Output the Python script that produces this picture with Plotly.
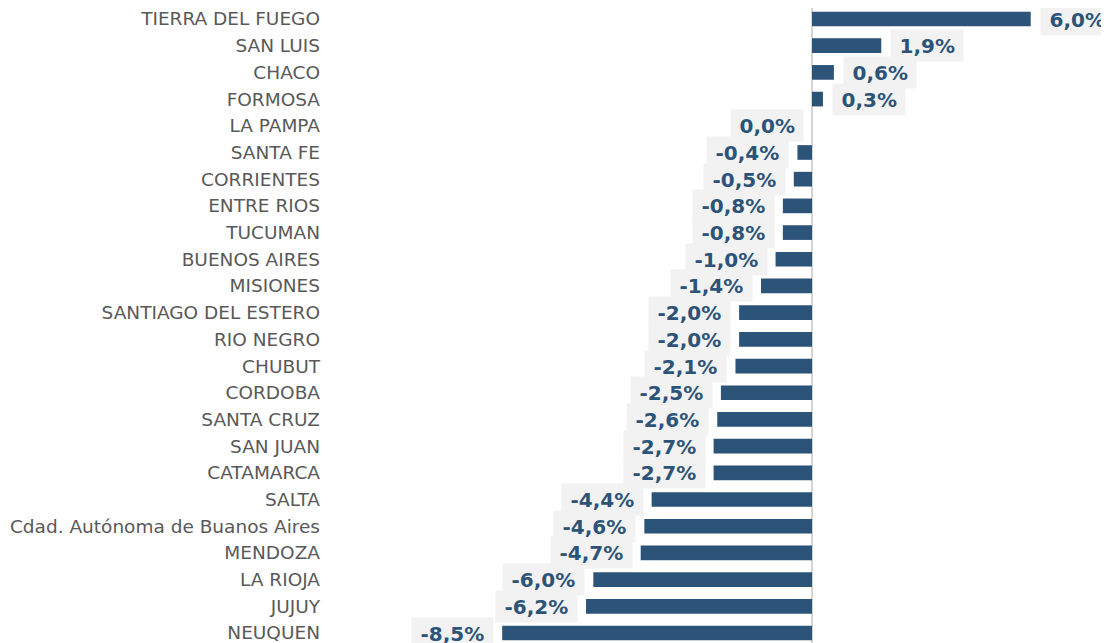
import plotly.graph_objects as go

provinces = [
    "TIERRA DEL FUEGO", "SAN LUIS", "CHACO", "FORMOSA", "LA PAMPA", "SANTA FE",
    "CORRIENTES", "ENTRE RIOS", "TUCUMAN", "BUENOS AIRES", "MISIONES",
    "SANTIAGO DEL ESTERO", "RIO NEGRO", "CHUBUT", "CORDOBA", "SANTA CRUZ",
    "SAN JUAN", "CATAMARCA", "SALTA", "Cdad. Autónoma de Buanos Aires",
    "MENDOZA", "LA RIOJA", "JUJUY", "NEUQUEN",
]
values = [
    6.0, 1.9, 0.6, 0.3, 0.0, -0.4,
    -0.5, -0.8, -0.8, -1.0, -1.4,
    -2.0, -2.0, -2.1, -2.5, -2.6,
    -2.7, -2.7, -4.4, -4.6,
    -4.7, -6.0, -6.2, -8.5,
]

BAR = "#2C5378"
LABEL_BG = "#F2F2F2"
PADSP = "\u2005"

# bottom-to-top order for the category axis
cats = provinces[::-1]
vals = values[::-1]

fig = go.Figure(
    go.Bar(
        x=vals,
        y=cats,
        orientation="h",
        marker=dict(color=BAR, line=dict(width=0)),
        width=0.55,
        hoverinfo="skip",
    )
)

for c, v in zip(cats, vals):
    txt = f"{v:.1f}".replace(".", ",") + "%"
    pos = v > 0
    fig.add_annotation(
        x=v, y=c, xref="x", yref="y",
        text=f"<b>{PADSP}{txt}{PADSP}</b>",
        showarrow=False,
        xanchor="left" if pos else "right",
        yanchor="middle",
        xshift=9 if pos else -8,
        bgcolor=LABEL_BG,
        borderpad=3.5,
        font=dict(family="DejaVu Sans", size=20, color=BAR),
    )

fig.update_layout(
    width=1109, height=643,
    margin=dict(l=315, r=0, t=0, b=0),
    paper_bgcolor="white",
    plot_bgcolor="white",
    showlegend=False,
    xaxis=dict(
        range=[-13.416, 8.367],
        showticklabels=False, showgrid=False, ticks="",
        zeroline=True, zerolinecolor="#D4D4D4", zerolinewidth=2,
        fixedrange=True,
    ),
    yaxis=dict(
        type="category",
        categoryorder="array", categoryarray=cats,
        range=[-0.6743, 23.412],
        showgrid=False, ticks="", zeroline=False,
        tickfont=dict(family="DejaVu Sans", size=18.5, color="#595959"),
        ticklabelstandoff=2,
        fixedrange=True,
    ),
)

fig.write_html("out.html")
